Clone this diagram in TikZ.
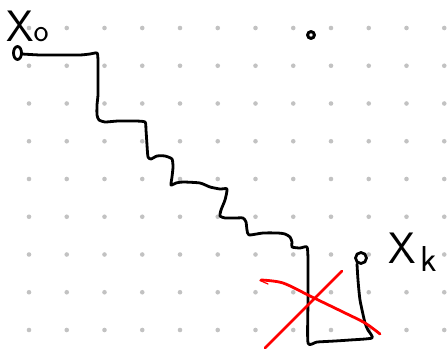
\documentclass[tikz,border=0pt]{standalone}
\usepackage{fontspec}
\begin{document}
\begin{tikzpicture}[x=1pt,y=-1pt,
  griddot/.style={fill=black!24},
  ink/.style={draw=black,line width=2.8pt,line join=round,line cap=round},
  redink/.style={draw=red,line width=2.8pt,line cap=round},
  hand/.style={inner sep=0pt,font=\sffamily}]
\useasboundingbox (0,0) rectangle (448,353);
\fill[white] (0,0) rectangle (448,353);
% dotted grid
\foreach \i in {0,...,11}{
  \foreach \j in {0,...,8}{
    \fill[griddot] (29+37.75*\i,28+37.75*\j) circle (2.3);
  }
}
% labels
\node[hand,anchor=base west] (lxo) at (6,42) {{\fontsize{44}{44}\selectfont X}{\fontsize{32}{32}\selectfont o}};
\node[hand,anchor=base west] (lxk) at (388,263) {{\fontsize{44}{44}\selectfont X}\hspace{5pt}\raisebox{-9pt}{\fontsize{36}{36}\selectfont k}};
% small mark top
\draw[ink,line width=3pt] (311,35) circle (3.4);
% start and end points
\coordinate (s) at (22,54);
\coordinate (e) at (357,264);
\draw[ink] (17.5,53) ellipse (4 and 6.5);
\draw[ink] (361,258) circle (5.5);
% staircase path
\draw[ink] plot[smooth,tension=0.35] coordinates {
  (s) (40,55) (60,55) (80,55) (90,54) (97,53) (98,60) (98,80) (98,95) (97,105) (97,115)
  (99,120) (105,122) (118,121) (135,121) (145,122) (146,130) (147,145) (148,157)
  (151,159) (157,156) (165,156) (172,159) (173,167) (172,177) (171,185) (176,183)
  (183,182) (200,183) (210,187) (220,189) (227,189) (225,200) (221,210) (220,216)
  (225,218) (235,218) (243,218) (246,222) (247,230) (249,235) (263,233) (278,233)
  (285,234) (290,237) (292,242) (292,247) (300,248) (307,247) (308,260) (308,300)
  (308,343) (317,342) (335,341) (350,340) (372,338) (368,330) (365,323) (360,300)
  (358,280) (e)};
% red cross
\coordinate (ra) at (265,348);
\coordinate (rb) at (342,271);
\draw[redink] (ra) -- (rb);
\draw[redink,line width=1.2pt] (268,284) -- (260,280.5);
\draw[redink] plot[smooth,tension=0.5] coordinates {
  (261,280) (283,283) (312,297) (343,312) (365,323) (380,334)};
\end{tikzpicture}
\end{document}
